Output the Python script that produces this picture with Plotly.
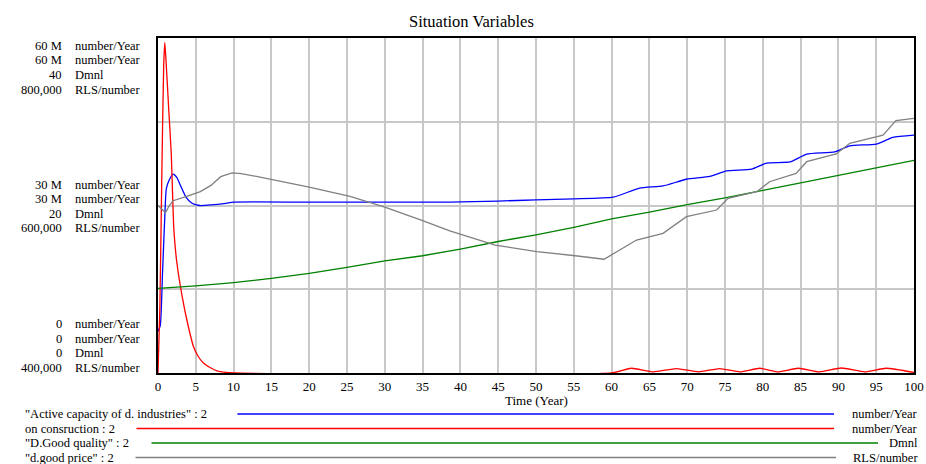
import plotly.graph_objects as go

# ---- data ----
cap_t = [0, 0.3, 0.6, 0.9, 1.1, 1.5, 2.0, 2.5, 3.0, 3.7, 4.5, 5.5, 7, 9, 10, 20, 38.6, 45, 50, 55, 60.2,
         63.7, 66.8, 69.9, 73, 75.2, 78.5, 80.5, 83.6, 85.8, 89.5, 91.5, 95, 97.2, 100]
cap_v = [7.5e6, 8.5e6, 18e6, 28e6, 33e6, 34.6e6, 35.6e6, 35.0e6, 33.5e6, 31.5e6, 30.4e6, 30.0e6, 30.1e6, 30.4e6,
         30.6e6, 30.6e6, 30.6e6, 30.8e6, 31.0e6, 31.2e6, 31.5e6,
         33.1e6, 33.5e6, 34.7e6, 35.2e6, 36.2e6, 36.5e6, 37.6e6, 37.8e6, 39.2e6, 39.6e6, 40.7e6, 41.0e6, 42.2e6, 42.6e6]

con_t = [0, 0.25, 0.5, 0.75, 0.9, 1.1, 1.4, 1.75, 2.1, 2.5, 3.2, 3.9, 4.7, 5.3, 6, 7, 7.8, 9, 10, 60,
         62.6, 65.5, 68.6, 71.5, 74.3, 77, 79.6, 82, 84.7, 87.5, 90.4, 93.5, 96.3, 100]
con_v = [0, 12e6, 35e6, 55e6, 59.2e6, 55e6, 47.7e6, 39.4e6, 25.6e6, 19.7e6, 13.7e6, 9e6, 4.7e6, 3e6, 1.8e6,
         0.9e6, 0.4e6, 0.1e6, 0, 0,
         0.85e6, 0.2e6, 0.8e6, 0.2e6, 0.8e6, 0.2e6, 0.85e6, 0.2e6, 0.85e6, 0.2e6, 0.9e6, 0.2e6, 0.85e6, 0.1e6]

qual_t = [0, 5, 10, 15, 20, 25, 30, 35, 40, 45, 50, 55, 60, 65, 70, 75, 80, 85, 90, 95, 100]
qual_v = [10.1, 10.4, 10.8, 11.3, 11.9, 12.6, 13.4, 14.0, 14.8, 15.7, 16.5, 17.4, 18.4, 19.2, 20.1, 20.9,
          21.8, 22.7, 23.6, 24.5, 25.4]

price_t = [0, 0.5, 1.0, 1.5, 2.0, 3.5, 5.6, 7, 8.3, 9.8, 11, 13.5, 20, 25.4, 30, 35, 38.6, 44.6, 50.1, 55.2, 59,
           63.3, 66.8, 69.9, 73.9, 75.4, 79.2, 80.9, 84.4, 85.8, 89.7, 91.5, 95.9, 97.6, 100]
price_v = [600000, 596000, 591500, 600000, 605700, 610000, 616500, 624000, 634400, 639000, 638000, 634000,
           622000, 611000, 598000, 582000, 569600, 552800, 544900, 540000, 535800,
           558800, 566800, 586600, 594600, 608600, 616500, 628400, 638400, 652300, 661500, 674200, 684000,
           701300, 704000]

x_ticks = list(range(0, 101, 5))
label_groups = [
    ["60 M", "60 M", "40", "800,000"],
    ["30 M", "30 M", "20", "600,000"],
    ["0", "0", "0", "400,000"],
]
units = ["number/Year", "number/Year", "Dmnl", "RLS/number"]
legend_names = ['"Active capacity of d. industries" : 2', 'on consruction : 2',
                '"D.Good quality" : 2', '"d.good price" : 2']
colors = ["#0000ff", "#ff0000", "#008000", "#808080"]

# ---- figure ----
W, H = 926, 464
L, R, T, B = 157.5, 914, 38, 373
font = "Liberation Serif"
FS = 12.5

fig = go.Figure()
fig.add_trace(go.Scatter(x=cap_t, y=cap_v, mode="lines", line=dict(color=colors[0], width=1.3, shape="spline", smoothing=0.5), yaxis="y"))
fig.add_trace(go.Scatter(x=con_t, y=con_v, mode="lines", line=dict(color=colors[1], width=1.3, shape="spline", smoothing=0.5), yaxis="y"))
fig.add_trace(go.Scatter(x=qual_t, y=qual_v, mode="lines", line=dict(color=colors[2], width=1.3), yaxis="y2"))
fig.add_trace(go.Scatter(x=price_t, y=price_v, mode="lines", line=dict(color=colors[3], width=1.3), yaxis="y3"))

px = lambda x: (x - L) / (R - L)
py = lambda y: (B - y) / (B - T)

fig.update_layout(
    width=W, height=H, autosize=False,
    margin=dict(l=L, r=W - R, t=T, b=H - B, autoexpand=False),
    paper_bgcolor="white", plot_bgcolor="white",
    showlegend=False,
    font=dict(family=font, size=FS, color="black"),
    xaxis=dict(range=[0, 100], tickvals=x_ticks, ticktext=[str(v) for v in x_ticks], showgrid=True,
               gridcolor="#c8c8c8", gridwidth=1.5, zeroline=False, showline=True, linecolor="black",
               linewidth=2, mirror=True, ticks="", tickfont=dict(family=font, size=13), automargin=False),
    yaxis=dict(range=[0, 60e6], tickvals=[0, 15e6, 30e6, 45e6, 60e6], showticklabels=False, showgrid=True,
               gridcolor="#c8c8c8", gridwidth=1.5, zeroline=False, showline=True, linecolor="black",
               linewidth=2, mirror=True, ticks="", automargin=False),
    yaxis2=dict(range=[0, 40], overlaying="y", visible=False),
    yaxis3=dict(range=[400000, 800000], overlaying="y", visible=False),
)

# title and axis title
fig.add_annotation(text="Situation Variables", x=px(471), y=py(21), xref="paper", yref="paper",
                   xanchor="center", yanchor="middle", showarrow=False, font=dict(family=font, size=16.5))
fig.add_annotation(text="Time (Year)", x=px(536), y=py(400), xref="paper", yref="paper",
                   xanchor="center", yanchor="middle", showarrow=False, font=dict(family=font, size=13))

# left axis labels
group_y = [[46, 60.5, 75, 89.5], [184.5, 199, 213.5, 228], [324, 338.5, 353, 367.5]]
for g, labels in enumerate(label_groups):
    for i, lab in enumerate(labels):
        fig.add_annotation(text=lab, x=px(63), y=py(group_y[g][i]), xref="paper", yref="paper",
                           xanchor="right", yanchor="middle", showarrow=False, font=dict(family=font, size=FS))
        fig.add_annotation(text=units[i], x=px(72), y=py(group_y[g][i]), xref="paper", yref="paper",
                           xanchor="left", yanchor="middle", showarrow=False, font=dict(family=font, size=FS))

# bottom legend
leg_y = [414, 428.5, 443, 457.5]
line_start = [237, 136, 151, 135]
line_end = [834, 834, 878, 836]
for i in range(4):
    fig.add_annotation(text=legend_names[i], x=px(22), y=py(leg_y[i]), xref="paper", yref="paper",
                       xanchor="left", yanchor="middle", showarrow=False, font=dict(family=font, size=FS))
    fig.add_annotation(text=units[i], x=px(920), y=py(leg_y[i]), xref="paper", yref="paper",
                       xanchor="right", yanchor="middle", showarrow=False, font=dict(family=font, size=FS))
    fig.add_shape(type="line", xref="paper", yref="paper", x0=px(line_start[i]), x1=px(line_end[i]),
                  y0=py(leg_y[i]), y1=py(leg_y[i]), line=dict(color=colors[i], width=1.3))

fig.write_html("out.html", config={"displayModeBar": False},
               post_script="document.body.style.margin='0';document.body.style.overflow='hidden';")
